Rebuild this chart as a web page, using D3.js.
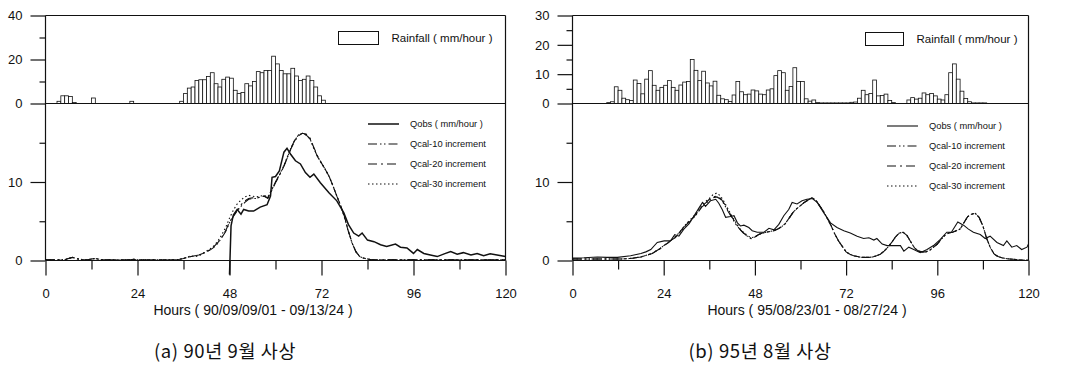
<!DOCTYPE html>
<html><head><meta charset="utf-8">
<script src="https://cdn.jsdelivr.net/npm/d3@7"></script>
<style>
html,body{margin:0;padding:0;background:#fff;}
svg{display:block;}
text{font-family:"Liberation Sans",Arial,Helvetica,sans-serif;fill:#111;}
</style></head><body>
<svg id="c" width="1065" height="366"></svg>
<script>
// ---------------- DATA ----------------
const hourMajorTicks = [0, 24, 48, 72, 96, 120];
const hourMinorTicks = [12, 36, 60, 84, 108];
const legendLabels = ["Qobs ( mm/hour )", "Qcal-10 increment", "Qcal-20 increment", "Qcal-30 increment"];
const rainLegendLabel = "Rainfall ( mm/hour )";
const axisTitles = ["Hours ( 90/09/09/01 - 09/13/24 )", "Hours ( 95/08/23/01 - 08/27/24 )"];
const captions = ["(a) 90년 9월 사상", "(b) 95년 8월 사상"];
const rainTicksA = [0, 20, 40], rainMinorA = [10, 30];
const rainTicksB = [0, 10, 20, 30], rainMinorB = [5, 15, 25];
const flowTicks = [0, 10], flowMinor = [5, 15];

// hourly rainfall (mm/hour), hour 0..120
const rainA = [
 0,0,0,1,3.5,3.5,3.2,0.5,0,0,
 0,0,2.5,0,0,0,0,0,0,0,
 0,0,1,0,0,0,0,0,0,0,
 0,0,0,0,0,1,4.5,7,7.5,10.5,
 10.8,10.8,12.3,14,9,7.5,11,12,11.5,6,
 4.5,5,9,8,10,14.5,14,15,15,21.5,
 18,15,13.5,13.5,16,12.5,10.5,11,12.5,10.5,
 7.5,3.5,1.5,0,0,0,0,0,0,0,
 0,0,0,0,0,0,0,0,0,0,
 0,0,0,0,0,0,0,0,0,0,
 0,0,0,0,0,0,0,0,0,0,
 0,0,0,0,0,0,0,0,0,0,
 0];
const rainB = [
 0,0,0,0,0,0,0,0,0,0.3,
 0.6,5.7,4.5,1.8,1.3,1.0,8,6.8,3.3,8.3,
 11.2,6.2,4.5,5.5,6.2,7.8,5.5,4.5,6.3,7.3,
 7.5,15,11.3,7.8,11,7,6,7.6,2.8,1.6,
 1.3,0.7,2.9,7.5,4,3,3.2,4.6,4.3,3.2,
 3.0,4.6,5,9.5,11.2,10.5,4.5,5.8,12.2,7.5,
 7.5,1.6,0.8,1.2,0.3,0.2,0.2,0.2,0.2,0.2,
 0.2,0.2,0.2,0.4,0.5,1.8,4.5,3,3.4,8,
 2.6,2.7,3.2,1,0.3,0,0,0,1.2,2,
 1.5,1.8,3.6,3.0,3.4,2.6,1.5,1.2,3,10.5,
 13.5,8.3,4.2,1.7,0.6,0.2,0.2,0.2,0.2,0,
 0,0,0,0,0,0,0,0,0,0,
 0];

// observed runoff (mm/hour): [hour, value]
const obsA = [[48,-1.8],[48.4,4.4],[49,5.8],[50,6.5],[51,5.9],[51.7,6.5],[53,6.3],[54.3,6.3],[56,6.8],[57.8,7.1],[58.7,8.2],[59.1,10.6],[60,10.7],[61,11.4],[62.2,13.8],[63,14.3],[64,13.5],[65.2,12.7],[66.5,12.3],[67.8,11.2],[69,10.6],[70,11.0],[71.7,9.9],[74,8.6],[76,7.6],[77.8,6.1],[79,4.6],[80.4,3.5],[81.7,3.1],[82.6,3.5],[84,2.6],[85.7,2.4],[87.4,2.0],[89,1.8],[91.3,2.1],[92.6,1.7],[94.3,1.6],[96,0.9],[97,1.4],[98.7,0.9],[100.4,0.7],[102.2,0.5],[104,0.85],[105.7,1.15],[107.4,0.8],[109,1.0],[111,0.7],[112.6,0.9],[114.3,0.6],[116,0.85],[117.8,0.7],[120,0.5]];
const obsB = [[0,0.3],[3,0.35],[6.6,0.45],[9,0.4],[11.8,0.4],[15.3,0.6],[18,0.9],[19.3,1.1],[20.6,1.4],[22.3,2.3],[24.1,2.5],[25.8,2.5],[26.9,3.3],[28,3.1],[29.3,4.0],[30.7,4.7],[32,5.7],[33.3,6.7],[34.2,7.4],[35,6.9],[36.3,7.6],[37.7,7.8],[38.5,7.3],[39.4,6.5],[40.3,5.5],[41.6,5.6],[42.5,5.7],[43.4,4.8],[44.2,4.4],[45.1,4.5],[46.4,4.2],[47.3,3.8],[48.6,3.6],[50.4,3.6],[51.7,4.1],[53,3.9],[54.3,4.6],[55.6,5.7],[56.9,6.5],[57.8,7.4],[59.1,7.2],[60.4,7.6],[61.7,7.8],[63.1,7.9],[64.4,7.4],[66.1,6.1],[67.9,4.8],[69.6,4.2],[71.4,3.8],[73.1,3.5],[74.9,3.1],[76.6,2.8],[78,2.9],[79.3,2.6],[80.1,2.8],[81.5,2.1],[82.8,1.9],[84.5,1.9],[86.3,1.9],[87.2,1.2],[88.5,1.7],[89.8,1.4],[91.5,1.0],[93.3,1.4],[95,1.9],[96.8,2.7],[98.5,3.6],[99.7,3.6],[101.4,4.9],[102.9,4.5],[104.2,4.0],[105.5,3.6],[107.3,3.3],[108.6,2.8],[109.9,3.1],[111.7,2.3],[113.4,1.9],[114.3,2.5],[115.6,1.7],[116.9,1.9],[118.2,1.4],[119.6,1.7],[120,2.1]];

// calculated runoff (mm/hour), hour 0..120
const cal10A = [
 0.1,0.1,0.1,0.1,0.1,0.1,0.25,0.4,0.25,0.15,
 0.1,0.1,0.2,0.25,0.15,0.1,0.1,0.1,0.1,0.1,
 0.1,0.1,0.1,0.15,0.1,0.1,0.1,0.1,0.1,0.1,
 0.1,0.1,0.1,0.1,0.1,0.15,0.25,0.4,0.5,0.6,
 0.65,0.85,1.1,1.35,1.7,2.2,2.9,3.7,4.8,5.6,
 6.3,6.9,7.4,7.8,7.9,7.9,8.1,8.2,8.0,9.0,
 10.0,10.9,11.8,13.0,14.3,15.3,16.0,16.2,16.0,15.5,
 14.3,13.2,12.4,11.6,10.7,9.5,8.2,7.0,5.5,3.7,
 2.2,1.1,0.5,0.3,0.2,0.1,0.1,0.1,0.1,0.1,
 0.1,0.1,0.1,0.1,0.1,0.1,0.1,0.1,0.1,0.1,
 0.1,0.1,0.1,0.1,0.1,0.1,0.1,0.1,0.1,0.1,
 0.1,0.1,0.1,0.1,0.1,0.1,0.1,0.1,0.1,0.1,
 0.1];
const cal20A = [
 0.1,0.1,0.1,0.1,0.1,0.1,0.25,0.4,0.25,0.15,
 0.1,0.1,0.2,0.25,0.15,0.1,0.1,0.1,0.1,0.1,
 0.1,0.1,0.1,0.15,0.1,0.1,0.1,0.1,0.1,0.1,
 0.1,0.1,0.1,0.1,0.1,0.15,0.25,0.4,0.5,0.6,
 0.7,0.9,1.15,1.4,1.8,2.3,3.0,3.8,4.9,5.7,
 6.4,7.1,7.6,7.9,8.0,7.9,8.1,8.2,7.9,8.9,
 9.9,10.8,11.8,13.0,14.2,15.2,15.9,16.2,16.1,15.6,
 14.4,13.3,12.4,11.6,10.7,9.5,8.2,7.0,5.6,3.8,
 2.2,1.1,0.5,0.3,0.2,0.1,0.1,0.1,0.1,0.1,
 0.1,0.1,0.1,0.1,0.1,0.1,0.1,0.1,0.1,0.1,
 0.1,0.1,0.1,0.1,0.1,0.1,0.1,0.1,0.1,0.1,
 0.1,0.1,0.1,0.1,0.1,0.1,0.1,0.1,0.1,0.1,
 0.1];
const cal30A = [
 0.1,0.1,0.1,0.1,0.1,0.1,0.25,0.4,0.25,0.15,
 0.1,0.1,0.2,0.25,0.15,0.1,0.1,0.1,0.1,0.1,
 0.1,0.1,0.1,0.15,0.1,0.1,0.1,0.1,0.1,0.1,
 0.1,0.1,0.1,0.1,0.1,0.15,0.25,0.45,0.6,0.5,
 0.6,0.9,1.2,1.5,1.9,2.5,3.3,4.2,5.4,6.4,
 7.2,7.7,8.1,8.3,8.2,8.1,8.2,8.3,8.1,9.0,
 10.0,10.9,11.9,13.1,14.3,15.3,16.0,16.2,16.0,15.5,
 14.3,13.2,12.4,11.6,10.7,9.5,8.2,7.0,5.5,3.7,
 2.2,1.1,0.5,0.3,0.2,0.1,0.1,0.1,0.1,0.1,
 0.1,0.1,0.1,0.1,0.1,0.1,0.1,0.1,0.1,0.1,
 0.1,0.1,0.1,0.1,0.1,0.1,0.1,0.1,0.1,0.1,
 0.1,0.1,0.1,0.1,0.1,0.1,0.1,0.1,0.1,0.1,
 0.1];
const cal10B = [
 0.2,0.2,0.2,0.2,0.2,0.2,0.2,0.2,0.2,0.2,
 0.2,0.2,0.2,0.2,0.22,0.25,0.3,0.38,0.45,0.6,
 0.75,0.9,1.2,1.5,1.9,2.2,2.6,2.9,3.4,4.0,
 4.6,5.0,5.5,6.1,6.8,7.2,7.7,8.0,8.1,7.8,
 7.1,6.2,5.4,4.6,4.0,3.5,3.1,2.8,3.0,3.3,
 3.5,3.6,3.7,3.8,4.0,4.3,4.7,5.4,6.1,6.6,
 7.0,7.4,7.7,8.0,7.7,7.0,6.3,5.4,4.5,3.4,
 2.5,1.8,1.1,0.8,0.6,0.5,0.4,0.4,0.4,0.45,
 0.6,0.8,1.2,1.7,2.3,3.0,3.5,3.6,3.2,2.4,
 1.6,1.2,1.1,1.1,1.3,1.7,2.1,2.7,3.2,3.5,
 3.6,3.8,4.0,4.8,5.6,5.9,6.0,5.5,4.4,2.8,
 1.6,0.8,0.5,0.35,0.25,0.2,0.15,0.1,0.07,0.05,
 0.03];
const cal20B = [
 0.2,0.2,0.2,0.2,0.2,0.2,0.2,0.2,0.2,0.2,
 0.2,0.2,0.2,0.2,0.22,0.25,0.3,0.38,0.45,0.6,
 0.75,0.9,1.2,1.5,1.9,2.2,2.6,3.0,3.5,4.1,
 4.7,5.1,5.6,6.2,6.9,7.3,7.8,8.1,8.2,7.9,
 7.2,6.3,5.5,4.7,4.0,3.5,3.1,2.8,3.0,3.3,
 3.5,3.6,3.7,3.8,4.0,4.3,4.7,5.4,6.1,6.6,
 7.0,7.4,7.7,8.0,7.7,7.0,6.3,5.4,4.5,3.4,
 2.5,1.8,1.1,0.8,0.6,0.5,0.4,0.4,0.4,0.45,
 0.6,0.8,1.2,1.7,2.3,3.0,3.5,3.6,3.2,2.4,
 1.6,1.2,1.1,1.1,1.3,1.7,2.1,2.7,3.2,3.5,
 3.6,3.8,4.0,4.8,5.6,5.9,6.0,5.5,4.4,2.8,
 1.6,0.8,0.5,0.35,0.25,0.2,0.15,0.1,0.07,0.05,
 0.03];
const cal30B = [
 0.2,0.2,0.2,0.2,0.2,0.2,0.2,0.2,0.2,0.2,
 0.2,0.2,0.2,0.2,0.22,0.25,0.3,0.38,0.45,0.6,
 0.75,0.9,1.2,1.5,1.9,2.2,2.6,3.0,3.5,4.1,
 4.7,5.2,5.7,6.3,7.0,7.5,7.9,8.4,8.6,8.2,
 7.4,6.5,5.6,4.8,4.1,3.6,3.2,2.9,3.0,3.3,
 3.5,3.6,3.7,3.8,4.0,4.3,4.7,5.4,6.1,6.6,
 7.0,7.4,7.7,8.0,7.7,7.0,6.3,5.4,4.5,3.4,
 2.5,1.8,1.1,0.8,0.6,0.5,0.4,0.4,0.4,0.45,
 0.6,0.8,1.2,1.7,2.3,3.0,3.5,3.6,3.2,2.4,
 1.6,1.2,1.1,1.1,1.3,1.7,2.1,2.7,3.2,3.5,
 3.6,3.8,4.0,4.8,5.6,5.9,6.0,5.5,4.4,2.8,
 1.6,0.8,0.5,0.35,0.25,0.2,0.15,0.1,0.07,0.05,
 0.03];

// ---------------- DRAWING ----------------
const svg = d3.select("#c");
const INK = "#111";
const dashStyles = [null, "9,3,1.5,2.5,1.5,3", "9,4,2,4", "1.5,2.5"];

function drawChart(cfg) {
  const g = svg.append("g");
  const yTop = 15.5, yRain0 = 103.5, yFlow0 = 260.5;
  const x = d3.scaleLinear().domain([0, 120]).range([cfg.x0, cfg.x1]);
  const yRain = d3.scaleLinear().domain([0, cfg.rainMax]).range([yRain0, yTop]);
  const yFlow = d3.scaleLinear().domain([0, 20]).range([yFlow0, yRain0]);

  // rainfall bars
  g.append("g").selectAll("rect")
    .data(cfg.rain.map((v, i) => [i, v]).filter(d => d[1] > 0))
    .join("rect")
    .attr("x", d => x(d[0]))
    .attr("width", d => x(d[0] + 1) - x(d[0]))
    .attr("y", d => yRain(d[1]))
    .attr("height", d => yRain0 - yRain(d[1]))
    .attr("fill", "#fff").attr("stroke", INK).attr("stroke-width", 0.8);

  // frame lines
  const frame = g.append("g").attr("stroke", INK).attr("stroke-width", 1.2).attr("fill", "none");
  frame.append("line").attr("x1", cfg.x0).attr("x2", cfg.x1).attr("y1", yTop).attr("y2", yTop);
  frame.append("line").attr("x1", cfg.x0).attr("x2", cfg.x1).attr("y1", yRain0).attr("y2", yRain0);
  frame.append("line").attr("x1", cfg.x0).attr("x2", cfg.x1).attr("y1", yFlow0).attr("y2", yFlow0);
  frame.append("line").attr("x1", cfg.x0).attr("x2", cfg.x0).attr("y1", yTop).attr("y2", yFlow0);
  frame.append("line").attr("x1", cfg.x1).attr("x2", cfg.x1).attr("y1", yTop).attr("y2", yFlow0);

  function styleAxis(sel, fs) {
    sel.select(".domain").remove();
    sel.selectAll(".tick line").attr("stroke", INK).attr("stroke-width", 1.2);
    sel.selectAll(".tick text").attr("fill", INK).style("font-size", fs + "px")
      .style("font-family", '"Liberation Sans",Arial,sans-serif');
  }
  // rainfall y axis
  g.append("g").attr("transform", `translate(${cfg.x0},0)`)
    .call(d3.axisLeft(yRain).tickValues(cfg.rainTicks).tickSize(15).tickPadding(8).tickFormat(d3.format("d")))
    .call(s => styleAxis(s, 13));
  g.append("g").attr("transform", `translate(${cfg.x0},0)`)
    .call(d3.axisLeft(yRain).tickValues(cfg.rainMinor).tickSize(6).tickFormat(""))
    .call(s => styleAxis(s, 13));
  // flow y axis
  g.append("g").attr("transform", `translate(${cfg.x0},0)`)
    .call(d3.axisLeft(yFlow).tickValues(flowTicks).tickSize(15).tickPadding(8).tickFormat(d3.format("d")))
    .call(s => styleAxis(s, 13));
  g.append("g").attr("transform", `translate(${cfg.x0},0)`)
    .call(d3.axisLeft(yFlow).tickValues(flowMinor).tickSize(6).tickFormat(""))
    .call(s => styleAxis(s, 13));
  // x axis
  g.append("g").attr("transform", `translate(0,${yFlow0})`)
    .call(d3.axisBottom(x).tickValues(hourMajorTicks).tickSize(15).tickPadding(13).tickFormat(d3.format("d")))
    .call(s => styleAxis(s, 13));
  g.append("g").attr("transform", `translate(0,${yFlow0})`)
    .call(d3.axisBottom(x).tickValues(hourMinorTicks).tickSize(9).tickFormat(""))
    .call(s => styleAxis(s, 13));

  // runoff lines
  const line = d3.line().x(d => x(d[0])).y(d => yFlow(d[1])).defined(d => d[1] != null);
  const series = [cfg.obs, cfg.cal10.map((v, i) => [i, v]), cfg.cal20.map((v, i) => [i, v]), cfg.cal30.map((v, i) => [i, v])];
  series.slice().reverse().forEach((s, ri) => {
    const k = series.length - 1 - ri;
    g.append("path").datum(s).attr("d", line)
      .attr("fill", "none").attr("stroke", INK)
      .attr("stroke-width", k === 0 ? cfg.obsWidth : 1.1)
      .attr("stroke-dasharray", dashStyles[k]);
  });

  // rainfall legend
  g.append("rect").attr("x", cfg.rainLeg[0]).attr("y", cfg.rainLeg[1]).attr("width", cfg.rainLeg[2]).attr("height", 13)
    .attr("fill", "#fff").attr("stroke", INK).attr("stroke-width", 1);
  g.append("text").attr("x", cfg.rainLeg[0] + cfg.rainLeg[2] + 13).attr("y", cfg.rainLeg[1] + 6.5)
    .attr("dominant-baseline", "central").style("font-size", "11.5px").text(rainLegendLabel);

  // flow legend
  legendLabels.forEach((lab, k) => {
    const yy = cfg.flowLeg[1] + k * 20;
    g.append("line").attr("x1", cfg.flowLeg[0]).attr("x2", cfg.flowLeg[0] + 31).attr("y1", yy).attr("y2", yy)
      .attr("stroke", INK).attr("stroke-width", k === 0 ? cfg.obsWidth : 1.1).attr("stroke-dasharray", dashStyles[k]);
    g.append("text").attr("x", cfg.flowLeg[0] + 42).attr("y", yy).attr("dominant-baseline", "central")
      .style("font-size", "9.3px").text(lab);
  });

  // axis title + caption
  g.append("text").attr("x", cfg.titleX).attr("y", 315).attr("text-anchor", "middle")
    .style("font-size", "14px").text(cfg.title);
  g.append("text").attr("x", cfg.captionX).attr("y", 358).attr("text-anchor", "middle")
    .style("font-size", "18.5px").style("letter-spacing", "0.6px")
    .style("font-family", '"Noto Sans CJK KR","Noto Sans",sans-serif')
    .text(cfg.caption);
}

drawChart({x0: 45.5, x1: 505.5, rainMax: 40, rainTicks: rainTicksA, rainMinor: rainMinorA,
  rain: rainA, obs: obsA, cal10: cal10A, cal20: cal20A, cal30: cal30A, obsWidth: 1.5,
  rainLeg: [338.5, 31.5, 40], flowLeg: [368, 124],
  title: axisTitles[0], titleX: 253, caption: captions[0], captionX: 225});
drawChart({x0: 572.5, x1: 1028.5, rainMax: 30, rainTicks: rainTicksB, rainMinor: rainMinorB,
  rain: rainB, obs: obsB, cal10: cal10B, cal20: cal20B, cal30: cal30B, obsWidth: 1.1,
  rainLeg: [865.5, 32.5, 38], flowLeg: [887, 126],
  title: axisTitles[1], titleX: 807, caption: captions[1], captionX: 760});
</script>
</body></html>
